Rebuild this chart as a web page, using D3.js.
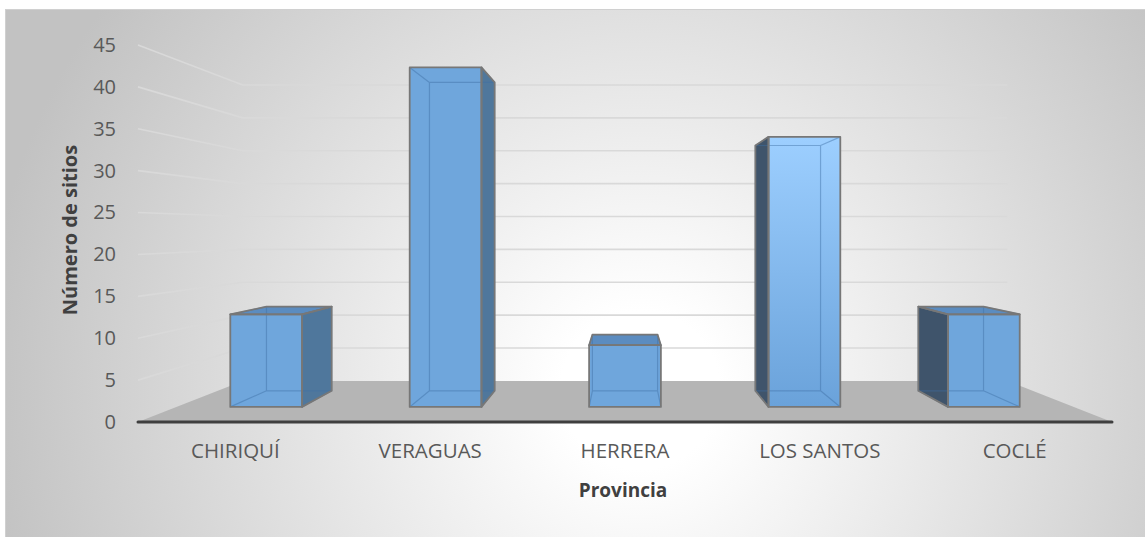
<!DOCTYPE html>
<html>
<head>
<meta charset="utf-8">
<script src="https://cdn.jsdelivr.net/npm/d3@7"></script>
<style>
    body { margin: 0; background: #fff; }
    svg text { font-family: "Open Sans", "Noto Sans", sans-serif; }
</style>
</head>
<body>
<div id="container"></div>
<script>
// 3D column chart, Excel style, perspective drawn by hand

const provincias = ["CHIRIQUÍ", "VERAGUAS", "HERRERA", "LOS SANTOS", "COCLÉ"]
const sitios = [12, 44, 8, 35, 12]
const yTicks = [0, 5, 10, 15, 20, 25, 30, 35, 40, 45]

const w = 1145
const h = 537

// perspective: vanishing point and depth shrink
const vx = 625
const vy = 231
const k = 0.274
const z1 = 0.313
const z2 = 0.713

const svg = d3.select("#container")
    .append("svg")
    .attr("width", w)
    .attr("height", h)

const defs = svg.append("defs")
const bg = defs.append("radialGradient")
    .attr("id", "bg")
    .attr("gradientUnits", "userSpaceOnUse")
    .attr("cx", 640)
    .attr("cy", 390)
    .attr("r", 660)
bg.append("stop").attr("offset", 0).attr("stop-color", "#ffffff")
bg.append("stop").attr("offset", 0.12).attr("stop-color", "#ffffff")
bg.append("stop").attr("offset", 1).attr("stop-color", "#c2c2c2")

const light = defs.append("linearGradient")
    .attr("id", "light")
    .attr("x1", 0).attr("y1", 0).attr("x2", 0).attr("y2", 1)
light.append("stop").attr("offset", 0).attr("stop-color", "#9dcfff")
light.append("stop").attr("offset", 1).attr("stop-color", "#6aa2da")

svg.append("rect")
    .attr("x", 5.5)
    .attr("y", 9.5)
    .attr("width", w - 5)
    .attr("height", h - 9)
    .attr("fill", "url(#bg)")
    .attr("stroke", "#d0d0d0")

const xScale = d3.scaleBand()
    .domain(provincias)
    .range([138, 1112])
const yScale = d3.scaleLinear()
    .domain([0, 45])
    .range([422, 45])

function project(x, y, z) {
    const s = 1 / (1 + k * z)
    return [vx + (x - vx) * s, vy + (y - vy) * s]
}
const left = xScale.range()[0]
const right = xScale.range()[1]

// floor
svg.append("path")
    .attr("d", d3.line()([
        project(left, yScale(0), 0), project(right, yScale(0), 0),
        project(right, yScale(0), 1), project(left, yScale(0), 1)
    ]) + "Z")
    .attr("fill", "#b5b5b5")

// gridlines: side wall then back wall
const grid = svg.append("g")
    .attr("fill", "none")
    .attr("stroke", "#d9d9d9")
    .attr("stroke-width", 1.6)
yTicks.filter((d) => d > 0).forEach((t) => {
    grid.append("path")
        .attr("d", d3.line()([
            project(left, yScale(t), 0), project(left, yScale(t), 1), project(right, yScale(t), 1)
        ]))
})

// axes
const yAxis = d3.axisLeft(yScale)
    .tickValues(yTicks)
    .tickSize(0)
    .tickPadding(22)
svg.append("g")
    .attr("transform", `translate(${left}, 0)`)
    .call(yAxis)
    .call((g) => g.select(".domain").remove())
    .selectAll("text")
    .attr("fill", "#595959")
    .style("font-size", "20px")

const xAxis = d3.axisBottom(xScale)
    .tickSize(0)
    .tickPadding(21)
svg.append("g")
    .attr("transform", `translate(0, ${yScale(0)})`)
    .call(xAxis)
    .call((g) => g.select(".domain").remove())
    .selectAll("text")
    .attr("fill", "#595959")
    .style("font-size", "20.5px")

svg.append("line")
    .attr("x1", left)
    .attr("x2", right)
    .attr("y1", yScale(0))
    .attr("y2", yScale(0))
    .attr("stroke", "#3f3f3f")
    .attr("stroke-width", 3)
    .attr("stroke-linecap", "round")

// bars
const bars = svg.append("g")
provincias.forEach((p, i) => {
    const c = xScale(p) + xScale.bandwidth() / 2
    const bw = xScale.bandwidth() * 0.2
    const xl = c - bw
    const xr = c + bw
    const y0 = yScale(0)
    const y1 = yScale(sitios[i])
    const P = (x, y, z) => project(x, y, z)
    const face = (pts) => d3.line()(pts) + "Z"

    const front = [P(xl, y0, z1), P(xr, y0, z1), P(xr, y1, z1), P(xl, y1, z1)]
    const back = [P(xl, y0, z2), P(xr, y0, z2), P(xr, y1, z2), P(xl, y1, z2)]
    const top = [P(xl, y1, z1), P(xr, y1, z1), P(xr, y1, z2), P(xl, y1, z2)]
    const rightSide = [P(xr, y0, z1), P(xr, y0, z2), P(xr, y1, z2), P(xr, y1, z1)]
    const leftSide = [P(xl, y0, z1), P(xl, y0, z2), P(xl, y1, z2), P(xl, y1, z1)]

    const visible = []
    if (front[1][0] < vx - 2) visible.push([rightSide, "#4f779c"])
    if (front[0][0] > vx + 2) visible.push([leftSide, "#3f546b"])
    if (y1 > vy) visible.push([top, "#5b8cc0"])
    visible.push([front, i === 3 ? "url(#light)" : "#6fa6dc"])

    const g = bars.append("g")
    visible.forEach(([pts, fill]) => {
        g.append("path").attr("d", face(pts)).attr("fill", fill)
    })
    // hidden edges show faintly through
    const edges = [back, [front[0], back[0]], [front[1], back[1]], [front[2], back[2]], [front[3], back[3]]]
    g.append("path")
        .attr("d", face(back) + edges.slice(1).map((e) => d3.line()(e)).join(""))
        .attr("fill", "none")
        .attr("stroke", "#3d6fa3")
        .attr("stroke-opacity", 0.45)
        .attr("stroke-width", 1.2)
    visible.forEach(([pts]) => {
        g.append("path")
            .attr("d", face(pts))
            .attr("fill", "none")
            .attr("stroke", "#777777")
            .attr("stroke-width", 1.8)
            .attr("stroke-linejoin", "round")
    })
})

// titles
svg.append("text")
    .text("Número de sitios")
    .attr("text-anchor", "middle")
    .attr("transform", "translate(77, 230) rotate(-90)")
    .attr("fill", "#404040")
    .style("font-size", "20px")
    .style("font-weight", "bold")
svg.append("text")
    .text("Provincia")
    .attr("text-anchor", "middle")
    .attr("x", 623)
    .attr("y", 497)
    .attr("fill", "#404040")
    .style("font-size", "19px")
    .style("font-weight", "bold")
</script>
</body>
</html>
